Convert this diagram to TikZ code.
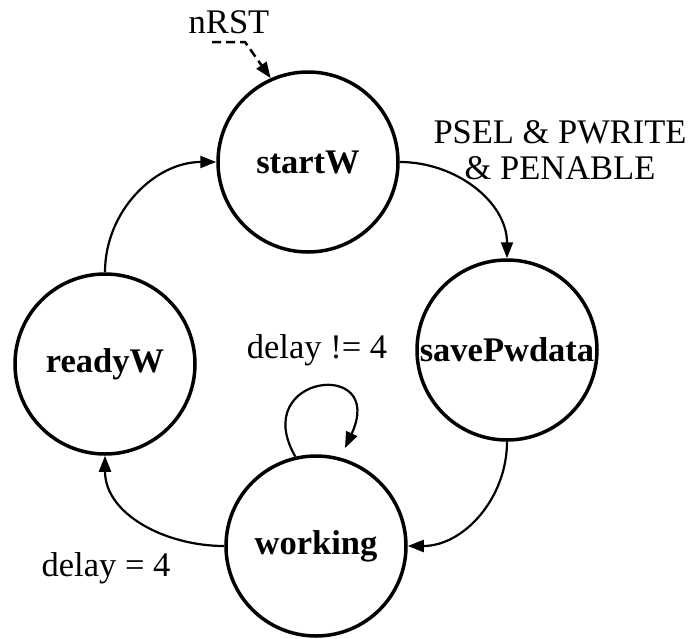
\documentclass[tikz,border=0pt]{standalone}
\usepackage{fontspec}
\setmainfont{Liberation Serif}
\usetikzlibrary{arrows.meta}
\begin{document}
\begin{tikzpicture}[x=1pt,y=1pt,
  state/.style={circle,draw,line width=3.5pt,minimum size=180pt,inner sep=0pt,
    font=\fontsize{34.5}{36}\selectfont\bfseries},
  label/.style={font=\fontsize{34.5}{36}\selectfont,inner sep=0pt,align=center},
  edge/.style={line width=2.2pt,-{Triangle[length=16pt,width=12pt]}}]
\useasboundingbox (0,0) rectangle (691,-638);

% states
\node[state] (startW)  at (308,-162) {startW};
\node[state] (save)    at (507,-350) {savePwdata};
\node[state] (working) at (316,-546) {working};
\node[state] (readyW)  at (105,-364) {readyW};

% transition labels
\node[label] (lrst)   at (229,-22)  {nRST};
\node[label] (lpsel)  at (560,-150) {PSEL \& PWRITE\\\& PENABLE};
\node[label] (lwait)  at (317,-350) {delay != 4};
\node[label] (ldone)  at (106,-568) {delay = 4};

% reset entry
\coordinate (rst0) at (212,-42);
\coordinate (rst1) at (245,-42);
\draw[edge,line width=2.5pt,dash pattern=on 9pt off 5pt] (rst0) -- (rst1) -- (startW.114);

% transitions
\draw[edge] (startW.east) to[out=0,in=90] (save.north);
\draw[edge] (save.south) to[out=-90,in=0] (working.east);
\draw[edge] (working.west) to[out=180,in=-90] (readyW.south);
\draw[edge] (readyW.north) to[out=90,in=180] (startW.west);

% self loop while waiting
\coordinate (loopend) at (345,-448);
\draw[edge] (working.103) .. controls +(120:95) and +(65:100) .. (loopend);
\end{tikzpicture}
\end{document}
